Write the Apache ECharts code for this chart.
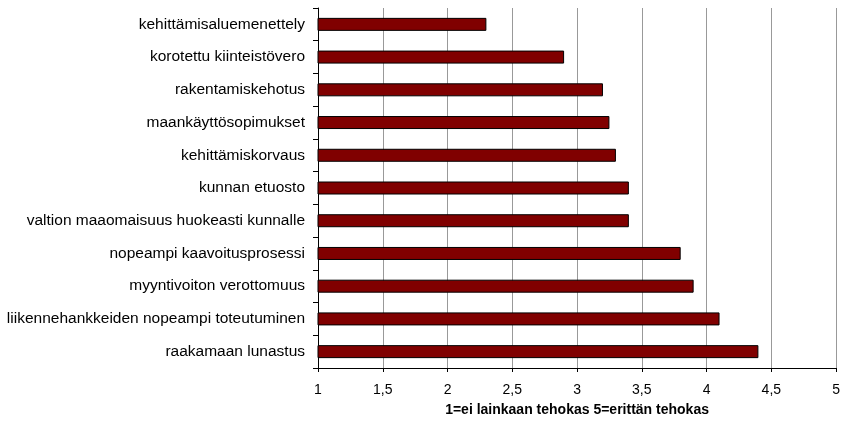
<!DOCTYPE html>
<html>
<head>
<meta charset="utf-8">
<script src="https://cdn.jsdelivr.net/npm/echarts@6/dist/echarts.min.js"></script>
<style>
  html, body { margin: 0; padding: 0; background: #fff; }
  #chart { width: 843px; height: 422px; }
</style>
</head>
<body>
<div id="chart"></div>
<script>
// Measures listed from top to bottom
const categories = [
  'kehittämisaluemenettely',
  'korotettu kiinteistövero',
  'rakentamiskehotus',
  'maankäyttösopimukset',
  'kehittämiskorvaus',
  'kunnan etuosto',
  'valtion maaomaisuus huokeasti kunnalle',
  'nopeampi kaavoitusprosessi',
  'myyntivoiton verottomuus',
  'liikennehankkeiden nopeampi toteutuminen',
  'raakamaan lunastus'
];
// Mean effectiveness rating (1–5)
const ratings = [2.3, 2.9, 3.2, 3.25, 3.3, 3.4, 3.4, 3.8, 3.9, 4.1, 4.4];
const axisTitle = '1=ei lainkaan tehokas 5=erittän tehokas';

const chart = echarts.init(document.getElementById('chart'), null, { renderer: 'canvas' });
const font = 'Arial, "Liberation Sans", sans-serif';

chart.setOption({
  animation: false,
  backgroundColor: '#ffffff',
  grid: { left: 318, right: 5, top: 8, bottom: 54, containLabel: false },
  xAxis: {
    type: 'value',
    min: 1, max: 5, interval: 0.5,
    name: axisTitle,
    nameLocation: 'middle',
    nameGap: 35,
    nameTextStyle: { fontFamily: font, fontSize: 14, fontWeight: 'bold', color: '#000' },
    axisLine: { show: true, lineStyle: { color: '#000', width: 1 } },
    axisTick: { show: true, length: 4, lineStyle: { color: '#000' } },
    axisLabel: {
      fontFamily: font, fontSize: 14, color: '#000', margin: 15,
      formatter: v => String(v).replace('.', ',')
    },
    splitLine: { show: true, lineStyle: { color: '#999999', width: 1 } }
  },
  yAxis: {
    type: 'category',
    data: categories,
    inverse: true,
    axisLine: { show: true, lineStyle: { color: '#000', width: 1 } },
    axisTick: { show: true, length: 5, alignWithLabel: false, lineStyle: { color: '#000' } },
    axisLabel: { fontFamily: font, fontSize: 15.5, color: '#000', margin: 13 },
    splitLine: { show: false }
  },
  series: [{
    type: 'bar',
    data: ratings,
    barWidth: 13,
    itemStyle: { color: '#800000', borderColor: '#000', borderWidth: 1 }
  }]
});
</script>
</body>
</html>
